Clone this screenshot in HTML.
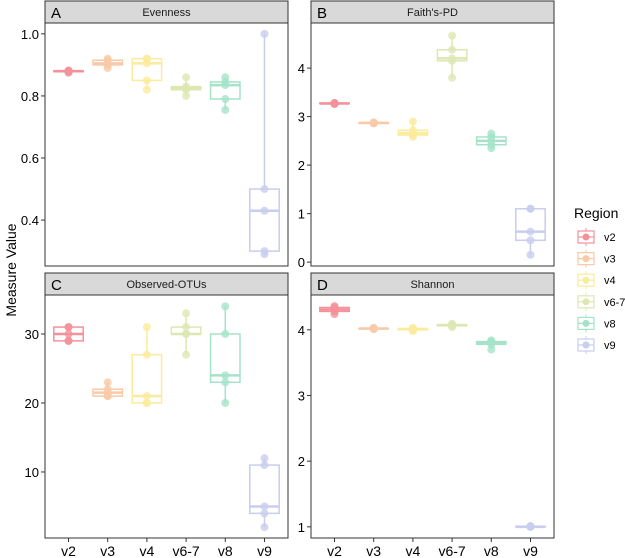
<!DOCTYPE html>
<html><head><meta charset="utf-8">
<style>
body{margin:0;background:#fff;}
svg{display:block;font-family:"Liberation Sans",sans-serif;}
</style></head>
<body>
<svg id="chart" width="625" height="558"></svg>
<script>
const categories = ["v2","v3","v4","v6-7","v8","v9"];
const colors = ["#f4919a","#f9c9a8","#fbeb9c","#dde7b2","#a5e3c9","#c9cdee"];
const panelTitles = ["Evenness","Faith's-PD","Observed-OTUs","Shannon"];
const panelLetters = ["A","B","C","D"];
const evennessValues = [
  [0.875,0.878,0.88,0.88,0.882],
  [0.89,0.90,0.905,0.915,0.92],
  [0.82,0.85,0.905,0.92,0.92],
  [0.80,0.82,0.825,0.83,0.86],
  [0.755,0.79,0.835,0.845,0.86],
  [0.29,0.30,0.43,0.50,1.0]];
const faithValues = [
  [3.26,3.27,3.27,3.28,3.28],
  [2.86,2.87,2.87,2.87,2.88],
  [2.58,2.62,2.66,2.72,2.9],
  [3.8,4.15,4.2,4.38,4.67],
  [2.35,2.42,2.5,2.58,2.65],
  [0.15,0.45,0.63,1.1,1.1]];
const otuValues = [
  [29,29,30,31,31],
  [21,21,21.5,22,23],
  [20,20,21,27,31],
  [27,30,30,31,33],
  [20,23,24,30,34],
  [2,4,5,11,12]];
const shannonValues = [
  [4.24,4.28,4.31,4.34,4.36],
  [4.01,4.02,4.02,4.02,4.03],
  [3.98,4.0,4.01,4.02,4.03],
  [4.04,4.06,4.07,4.08,4.09],
  [3.7,3.78,3.81,3.82,3.84],
  [1,1,1,1.01,1.01]];
const evennessTicks = [0.4,0.6,0.8,1.0];
const faithTicks = [0,1,2,3,4];
const otuTicks = [10,20,30];
const shannonTicks = [1,2,3,4];
const evennessDomain = [0.252,1.035];
const faithDomain = [-0.08,4.93];
const otuDomain = [0.43,35.65];
const shannonDomain = [0.83,4.53];

const NS="http://www.w3.org/2000/svg";
const svg=document.getElementById('chart');
function mk(tag,attrs,parent){const e=document.createElementNS(NS,tag);for(const k in attrs)e.setAttribute(k,attrs[k]);(parent||svg).appendChild(e);return e;}
function q(sorted,p){const h=(sorted.length-1)*p;const lo=Math.floor(h),hi=Math.ceil(h);return sorted[lo]+(sorted[hi]-sorted[lo])*(h-lo);}

const panels=[
 {x:45,y:1,vals:evennessValues,ticks:evennessTicks,dom:evennessDomain,fmt:v=>v.toFixed(1),xl:false},
 {x:311,y:1,vals:faithValues,ticks:faithTicks,dom:faithDomain,fmt:v=>String(v),xl:false},
 {x:45,y:273,vals:otuValues,ticks:otuTicks,dom:otuDomain,fmt:v=>String(v),xl:true},
 {x:311,y:273,vals:shannonValues,ticks:shannonTicks,dom:shannonDomain,fmt:v=>String(v),xl:true}];
const W=243,SH=22,PH=243;

panels.forEach((p,i)=>{
  const g=mk('g',{});
  
  
  const top=p.y+SH, bot=top+PH;
  const ys=v=>bot-(v-p.dom[0])/(p.dom[1]-p.dom[0])*PH;
  const step=W/6.2;
  const xs=k=>p.x+step*(0.6+k);
  const strip=mk('rect',{x:p.x,y:p.y,width:W,height:SH,fill:'#d9d9d9',stroke:'#333','stroke-width':1},g);
  
  
  const lt=mk('text',{x:p.x+6,y:p.y+17,'font-size':15,fill:'#000'},g);lt.textContent=panelLetters[i];
  
  
  const tt=mk('text',{x:p.x+W/2,y:p.y+15,'font-size':11,'text-anchor':'middle',fill:'#1a1a1a'},g);tt.textContent=panelTitles[i];
  
  
  mk('rect',{x:p.x,y:top,width:W,height:PH,fill:'#fff',stroke:'#333','stroke-width':1},g);
  p.ticks.forEach(t=>{
    const y=ys(t);
    mk('line',{x1:p.x-4,x2:p.x,y1:y,y2:y,stroke:'#333'},g);
    const tx=mk('text',{x:p.x-6,y:y+5,'font-size':13,'text-anchor':'end',fill:'#000'},g);tx.textContent=p.fmt(t);
    
    
  });
  categories.forEach((c,k)=>{
    const s=p.vals[k].slice().sort((a,b)=>a-b);
    const q1=q(s,0.25),md=q(s,0.5),q3=q(s,0.75);
    const cx=xs(k),bw=step*0.75,col=colors[k];
    const bg=mk('g',{},g);
    
    
    mk('line',{x1:cx,x2:cx,y1:ys(s[0]),y2:ys(s[s.length-1]),stroke:col,'stroke-width':1.5},bg);
    mk('rect',{x:cx-bw/2,y:ys(q3),width:bw,height:Math.max(0.5,ys(q1)-ys(q3)),fill:'#fff',stroke:col,'stroke-width':1.5},bg);
    mk('line',{x1:cx-bw/2,x2:cx+bw/2,y1:ys(md),y2:ys(md),stroke:col,'stroke-width':2.5},bg);
    s.forEach(v=>{
      const pt=mk('circle',{cx:cx,cy:ys(v),r:4,fill:col,opacity:0.8},bg);
      
      
    });
    if(p.xl){
      mk('line',{x1:cx,x2:cx,y1:bot,y2:bot+4,stroke:'#333'},g);
      const xt=mk('text',{x:cx,y:bot+18,'font-size':14,'text-anchor':'middle',fill:'#000'},g);xt.textContent=c;
      
      
    }
  });
});
const yt=mk('text',{x:0,y:0,'font-size':14,'text-anchor':'middle',transform:'translate(16,270) rotate(-90)',fill:'#000'});
yt.textContent='Measure Value';


const lg=mk('g',{});


const lt=mk('text',{x:574,y:218,'font-size':14,fill:'#000'},lg);lt.textContent='Region';
categories.forEach((c,k)=>{
  const y=237+k*21.6,col=colors[k];
  const e=mk('g',{},lg);
  
  
  mk('line',{x1:586,x2:586,y1:y-9,y2:y+9,stroke:col,'stroke-width':1},e);
  mk('rect',{x:578,y:y-6,width:16,height:12,fill:'#fff',stroke:col,'stroke-width':1.2},e);
  mk('line',{x1:578,x2:594,y1:y,y2:y,stroke:col,'stroke-width':1.2},e);
  mk('circle',{cx:586,cy:y,r:3.5,fill:col},e);
  const t=mk('text',{x:604,y:y+4,'font-size':11,fill:'#000'},e);t.textContent=c;
});
</script>
</body></html>
